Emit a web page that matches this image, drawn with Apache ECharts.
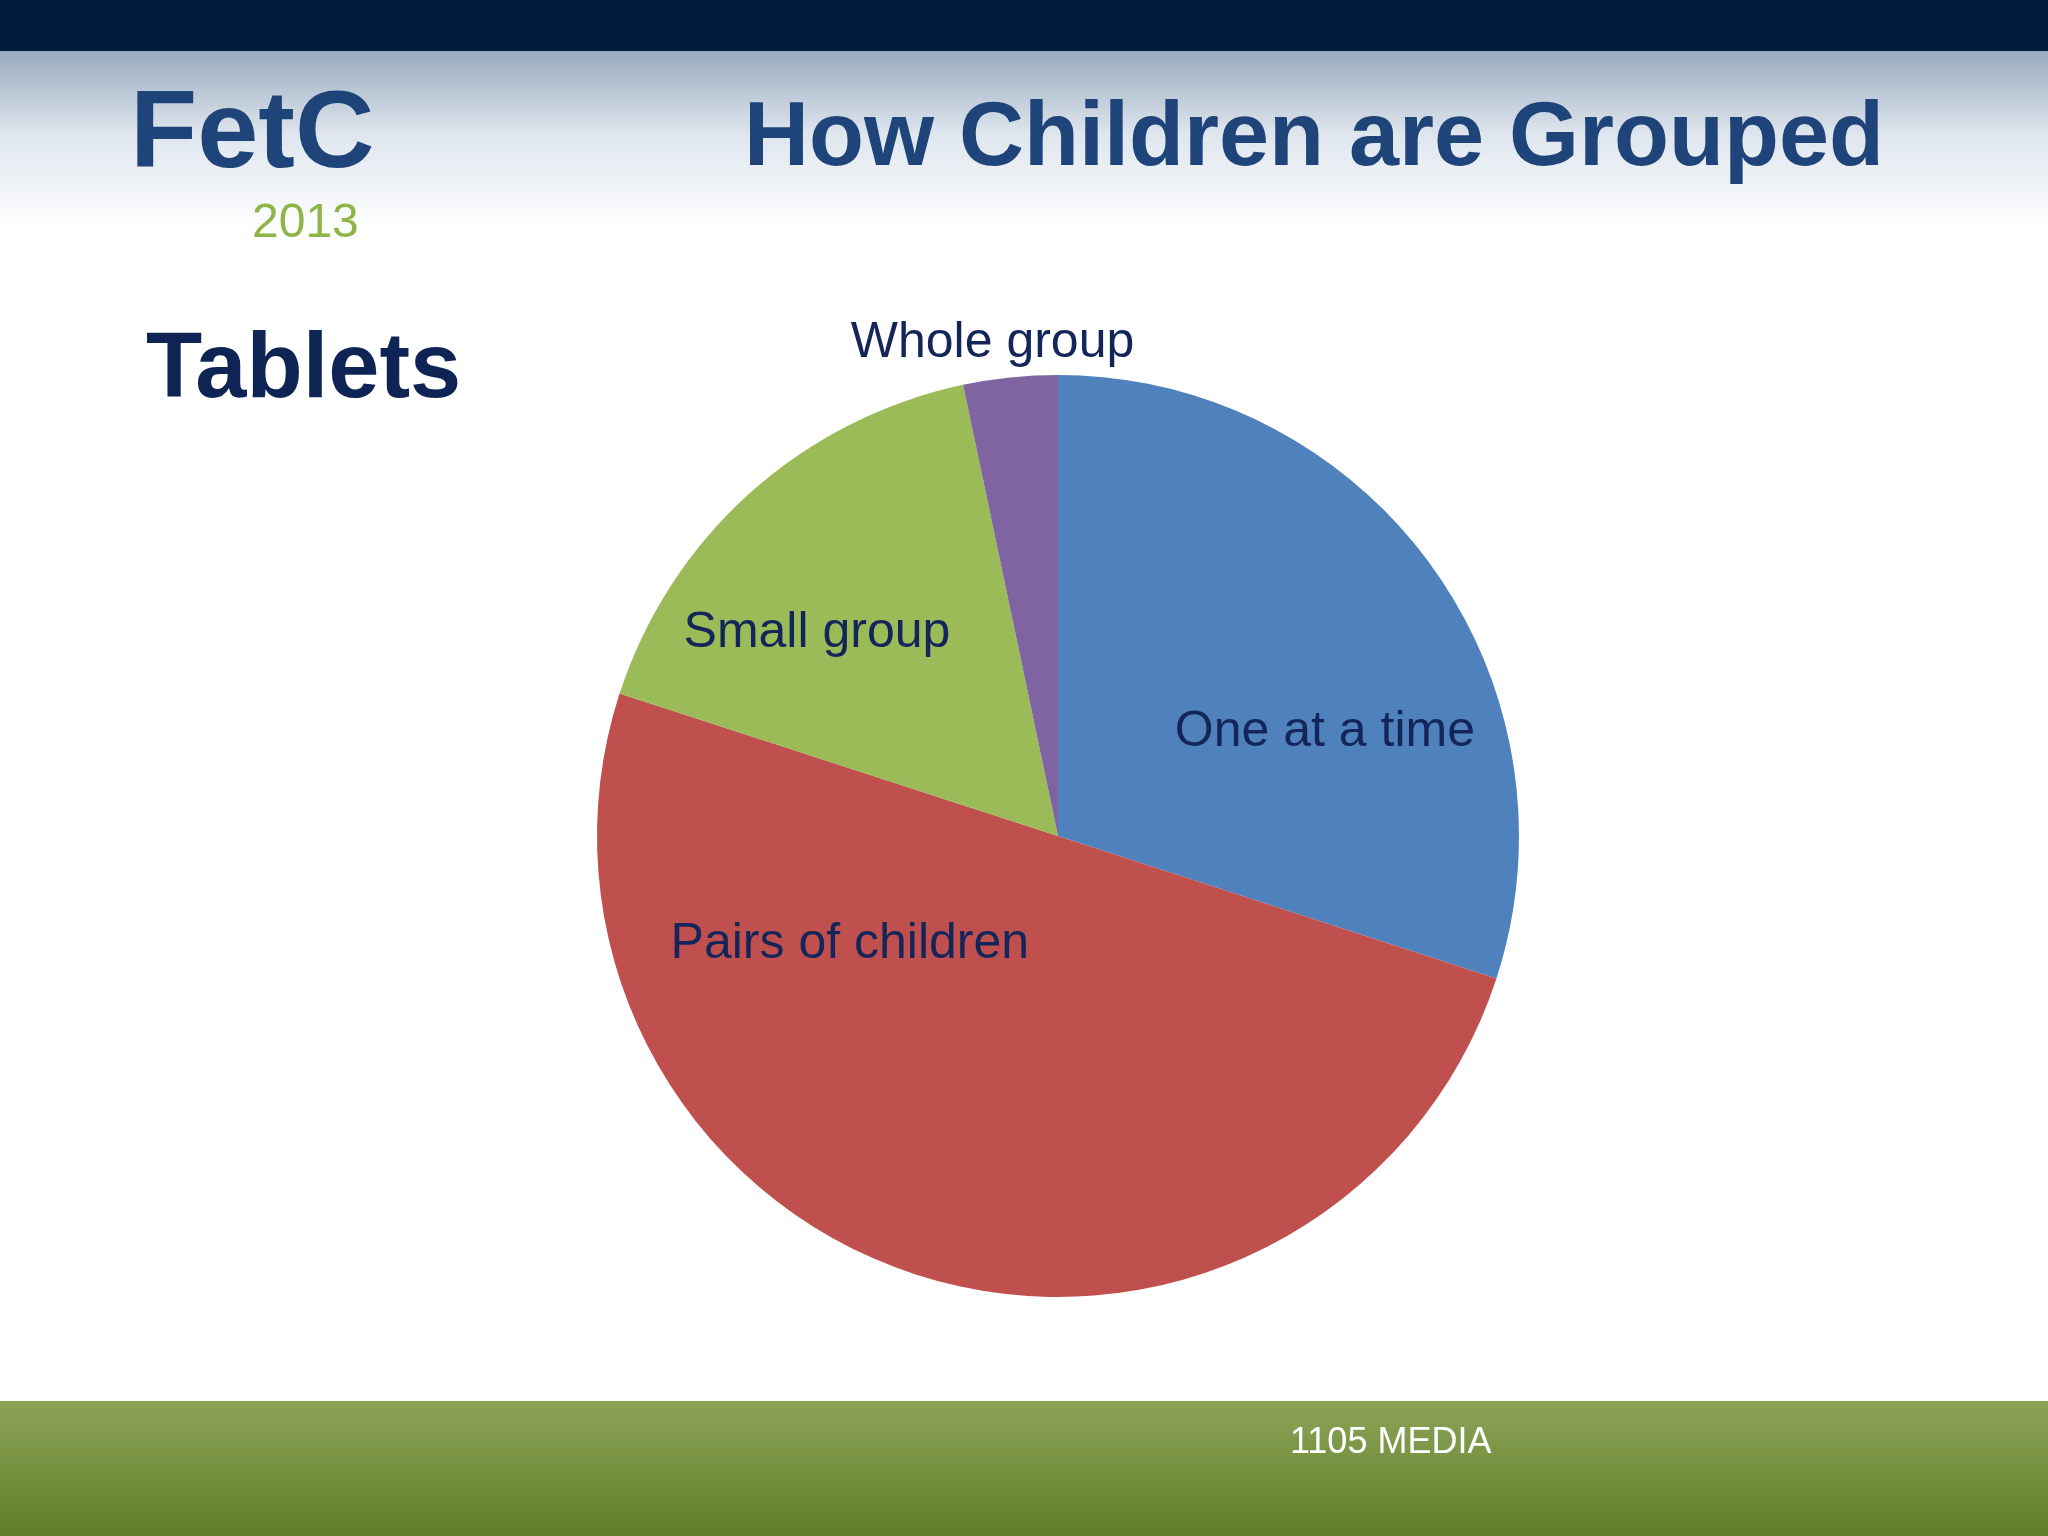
<!DOCTYPE html>
<html><head><meta charset="utf-8">
<script src="https://cdn.jsdelivr.net/npm/echarts@6/dist/echarts.min.js"></script>
<style>html,body{margin:0;padding:0}#c{width:2048px;height:1536px}</style>
</head><body><div id="c"></div>
<script>
var categories = ['One at a time', 'Pairs of children', 'Small group', 'Whole group'];
var values = [30, 50, 16.7, 3.3];
var colors = ['#4f81bd', '#c0504d', '#9bbb59', '#8064a2'];
// label nudges so text sits where the slide had it
var labelOffsets = [[78, 33], [-136, -114], [-85, -29], [129, -34]];

var data = categories.map(function (name, i) {
    var d = { name: name, value: values[i], itemStyle: { color: colors[i] },
              label: { offset: labelOffsets[i] } };
    if (i === 3) {
        d.label.position = 'outside';
        d.label.distance = 4;
        d.labelLine = { show: false, length: 0, length2: 0 };
    }
    return d;
});

var chart = echarts.init(document.getElementById('c'));
chart.setOption({
    backgroundColor: '#ffffff',
    graphic: [
        { type: 'rect', shape: { x: 0, y: 40, width: 2048, height: 190 },
          style: { fill: new echarts.graphic.LinearGradient(0, 0, 0, 1, [
              { offset: 0, color: '#8fa3b8' }, { offset: 0.5, color: '#dfe6ee' }, { offset: 1, color: '#ffffff' }]) } },
        { type: 'rect', shape: { x: 0, y: 0, width: 2048, height: 51 }, style: { fill: '#021a3a' } },
        { type: 'rect', shape: { x: 0, y: 1401, width: 2048, height: 135 },
          style: { fill: new echarts.graphic.LinearGradient(0, 0, 0, 1, [
              { offset: 0, color: '#8ca356' }, { offset: 1, color: '#5f7f2a' }]) } },
        { type: 'text', left: 130, top: 82, style: { text: 'FetC', font: 'bold 110px "Liberation Sans"', fill: '#1f4479' } },
        { type: 'text', left: 252, top: 200, style: { text: '2013', font: '48px "Liberation Sans"', fill: '#8db548' } },
        { type: 'text', left: 1290, top: 1425, style: { text: '1105 MEDIA', font: '36px "Liberation Sans"', fill: '#ffffff' } },
        { type: 'text', x: 1314, y: 140, style: { text: 'How Children are Grouped', font: 'bold 90px "Liberation Sans"', fill: '#1f4479', align: 'center', verticalAlign: 'middle' } },
        { type: 'text', x: 146, y: 372, style: { text: 'Tablets', font: 'bold 92px "Liberation Sans"', fill: '#0e2454', verticalAlign: 'middle' } }
    ],
    series: [{
        type: 'pie',
        center: [1058, 836],
        radius: 461,
        startAngle: 90,
        clockwise: true,
        label: { show: true, position: 'inner', formatter: '{b}', color: '#14255a',
                 fontSize: 50, fontFamily: 'Liberation Sans' },
        labelLine: { show: false },
        emphasis: { disabled: true },
        data: data
    }]
});
</script></body></html>
